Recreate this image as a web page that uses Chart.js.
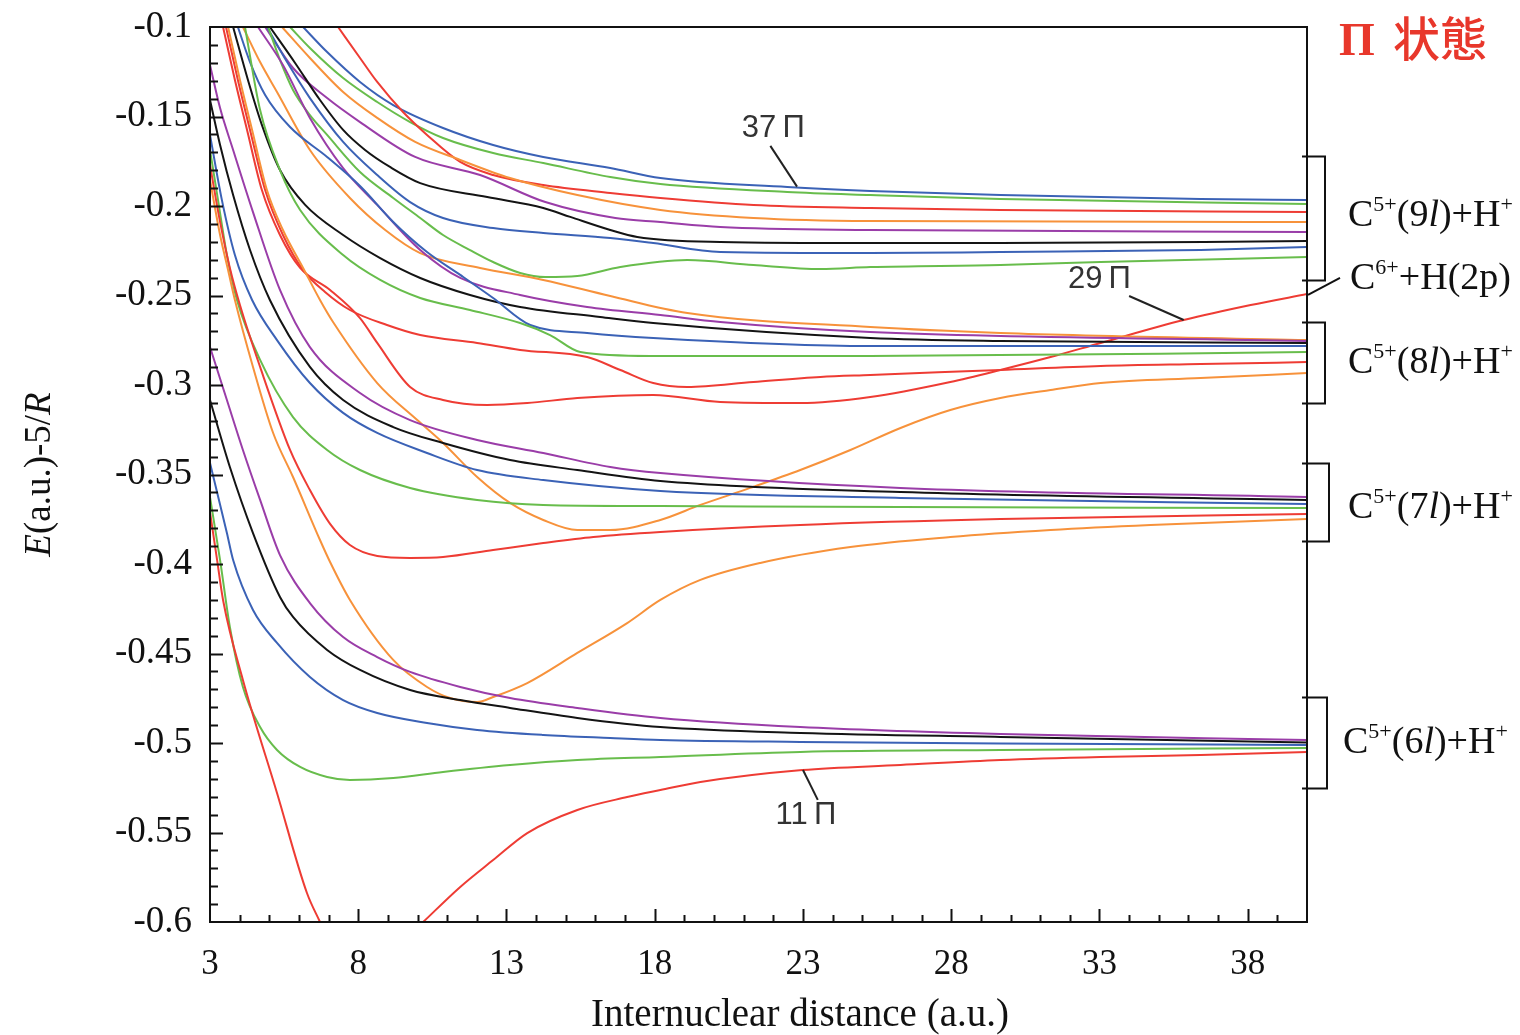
<!DOCTYPE html>
<html>
<head>
<meta charset="utf-8">
<script src="https://cdn.jsdelivr.net/npm/chart.js@4.4.1/dist/chart.umd.min.js"></script>
<style>
  html, body { margin: 0; padding: 0; background: #fff; }
  #wrap { width: 1520px; height: 1035px; position: relative; }
</style>
</head>
<body>
<div id="wrap"><canvas id="c"></canvas></div>
<script>
// Adiabatic Π-state potential curves of CH6+, E(a.u.) - 5/R versus R (a.u.)
// Axis ticks
const xTickValues = [3, 8, 13, 18, 23, 28, 33, 38];
const xTickLabels = ['3', '8', '13', '18', '23', '28', '33', '38'];
const yTickValues = [-0.6, -0.55, -0.5, -0.45, -0.4, -0.35, -0.3, -0.25, -0.2, -0.15, -0.1];
const yTickLabels = ['-0.6', '-0.55', '-0.5', '-0.45', '-0.4', '-0.35', '-0.3', '-0.25', '-0.2', '-0.15', '-0.1'];

// C5+(6l)+H+ manifold
const pi11X = [3.00, 3.24, 3.44, 4.11, 5.26, 6.27, 6.71, 8.5, 10.19, 11.44, 12.55, 13.70, 15.39, 17.07, 18.19, 19.54, 22.98, 26.29, 29.66, 33.04, 36.41, 40];
const pi11Y = [-0.371, -0.3978, -0.4201, -0.4648, -0.5279, -0.5838, -0.6, null, -0.6, -0.5804, -0.5654, -0.5503, -0.5374, -0.5302, -0.5263, -0.5218, -0.5151, -0.5123, -0.5095, -0.5078, -0.5067, -0.505];
const pi12X = [3.00, 3.34, 3.67, 4.11, 4.69, 5.26, 6.04, 6.95, 7.72, 9.18, 10.86, 13.12, 15.39, 18.19, 22.91, 29.66, 40];
const pi12Y = [-0.3626, -0.3978, -0.4352, -0.4687, -0.4911, -0.5039, -0.5134, -0.5190, -0.5207, -0.5196, -0.5162, -0.5123, -0.5095, -0.5078, -0.5050, -0.5039, -0.5028];
const pi13X = [3.00, 3.57, 3.78, 4.45, 5.26, 6.37, 7.49, 8.64, 10.32, 12.01, 14.24, 16.50, 18.19, 22.91, 29.66, 40];
const pi13Y = [-0.3436, -0.3827, -0.3978, -0.4257, -0.4441, -0.4631, -0.4760, -0.4832, -0.4888, -0.4927, -0.4955, -0.4972, -0.4983, -0.4994, -0.5003, -0.5011];
const pi14X = [3.00, 3.67, 4.45, 5.36, 5.80, 6.95, 8.06, 9.75, 11.44, 13.12, 15.39, 18.19, 22.91, 29.66, 40];
const pi14Y = [-0.3084, -0.3458, -0.3827, -0.4184, -0.4296, -0.4480, -0.4592, -0.4704, -0.4760, -0.4804, -0.4860, -0.4911, -0.4944, -0.4966, -0.4997];
const pi15X = [3.00, 3.57, 4.11, 4.69, 5.36, 6.37, 7.49, 8.64, 9.75, 11.44, 13.12, 15.39, 18.19, 22.91, 29.66, 40];
const pi15Y = [-0.2788, -0.3084, -0.3363, -0.3642, -0.3950, -0.4218, -0.4408, -0.4520, -0.4603, -0.4687, -0.4749, -0.4804, -0.4860, -0.4911, -0.4950, -0.4983];
const pi16X = [3.00, 3.34, 3.61, 3.84, 4.45, 5.13, 5.80, 6.71, 7.05, 7.72, 9.18, 10.32, 11.10, 12.01, 12.55, 13.70, 15.39, 17.07, 18.19, 19.54, 21.56, 24.60, 27.97, 31.35, 34.72, 40];
const pi16Y = [-0.1855, -0.2162, -0.2358, -0.2525, -0.2899, -0.3268, -0.3514, -0.3866, -0.3989, -0.4201, -0.4536, -0.4687, -0.4749, -0.4771, -0.4743, -0.4665, -0.4497, -0.4330, -0.4201, -0.4089, -0.3994, -0.3905, -0.3849, -0.3810, -0.3782, -0.3749];

// C5+(7l)+H+ manifold
const pi17X = [3.00, 3.34, 3.67, 4.01, 4.69, 5.70, 6.37, 7.05, 7.72, 8.64, 9.75, 10.86, 12.55, 14.24, 15.93, 18.19, 22.91, 29.66, 40];
const pi17Y = [-0.1771, -0.2089, -0.2346, -0.2553, -0.2899, -0.3363, -0.3587, -0.3776, -0.3894, -0.3955, -0.3966, -0.3961, -0.3922, -0.3883, -0.3849, -0.3821, -0.3782, -0.3749, -0.3721];
const pi18X = [3.00, 3.27, 3.57, 3.91, 4.69, 5.80, 6.95, 8.06, 9.75, 12.01, 14.24, 18.19, 26.29, 40];
const pi18Y = [-0.1687, -0.1966, -0.2274, -0.2525, -0.2860, -0.3179, -0.3363, -0.3475, -0.3575, -0.3642, -0.3670, -0.3676, -0.3682, -0.3687];
const pi19X = [3.00, 3.40, 3.84, 4.42, 5.26, 6.37, 7.49, 8.64, 10.32, 12.01, 14.24, 18.19, 26.29, 40];
const pi19Y = [-0.1603, -0.1966, -0.2274, -0.2525, -0.2749, -0.2989, -0.3156, -0.3268, -0.3380, -0.3475, -0.3531, -0.3592, -0.3631, -0.3665];
const pi20X = [3.00, 3.34, 3.78, 4.35, 5.02, 6.37, 7.49, 9.18, 10.86, 13.12, 15.39, 18.19, 26.29, 40];
const pi20Y = [-0.1408, -0.1659, -0.1939, -0.2246, -0.2525, -0.2899, -0.3084, -0.3235, -0.3324, -0.3419, -0.3475, -0.3536, -0.3598, -0.3642];
const pi21X = [3.00, 3.34, 3.78, 4.45, 5.36, 6.37, 8.06, 9.75, 12.01, 14.24, 16.50, 18.19, 26.29, 40];
const pi21Y = [-0.1212, -0.1453, -0.1687, -0.2034, -0.2469, -0.2788, -0.3045, -0.3196, -0.3307, -0.3380, -0.3458, -0.3492, -0.3575, -0.3626];
const pi22X = [3.61, 4.01, 4.42, 4.92, 5.46, 6.14, 6.71, 7.15, 8.64, 9.99, 10.86, 12.01, 13.12, 14.24, 15.39, 16.50, 18.19, 19.54, 21.22, 22.91, 24.60, 26.29, 27.97, 29.66, 31.35, 33.04, 36.41, 40];
const pi22Y = [-0.1, -0.1296, -0.1575, -0.1911, -0.2134, -0.2346, -0.2525, -0.2648, -0.2989, -0.3196, -0.3324, -0.3514, -0.3659, -0.3754, -0.3810, -0.3810, -0.3754, -0.3670, -0.3575, -0.3475, -0.3363, -0.3240, -0.3140, -0.3073, -0.3028, -0.2989, -0.2961, -0.2933];

// C5+(8l)+H+ manifold and C6+ + H(2p)
const pi23X = [3.54, 3.94, 4.35, 4.86, 5.46, 6.14, 6.88, 7.72, 8.97, 10.09, 12.01, 13.46, 15.72, 16.84, 17.95, 19.10, 21.33, 23.59, 25.27, 29.66, 33.04, 36.41, 40];
const pi23Y = [-0.1, -0.1296, -0.1575, -0.1911, -0.2162, -0.2358, -0.2480, -0.2581, -0.2665, -0.2721, -0.2765, -0.2804, -0.2844, -0.2916, -0.2989, -0.3011, -0.2983, -0.2955, -0.2944, -0.2916, -0.2894, -0.2883, -0.2872];
const pi24X = [4.18, 4.69, 5.36, 6.04, 7.49, 8.74, 10.09, 11.77, 13.46, 14.47, 15.49, 17.85, 25.27, 40];
const pi24Y = [-0.1, -0.1464, -0.1799, -0.2022, -0.2274, -0.2413, -0.2514, -0.2581, -0.2654, -0.2721, -0.2816, -0.2838, -0.2838, -0.2816];
const pi25X = [3.94, 4.35, 4.86, 5.70, 6.95, 8.06, 9.18, 10.32, 11.44, 12.55, 13.80, 15.72, 17.95, 25.27, 40];
const pi25Y = [-0.1, -0.1196, -0.1380, -0.1559, -0.1726, -0.1888, -0.2089, -0.2257, -0.2385, -0.2514, -0.2665, -0.2709, -0.2737, -0.2782, -0.2782];
const pi26X = [3.78, 4.28, 4.75, 5.36, 6.21, 7.49, 8.74, 10.09, 11.77, 13.46, 16.16, 17.95, 25.27, 29.66, 40];
const pi26Y = [-0.1, -0.1296, -0.1547, -0.1799, -0.1994, -0.2162, -0.2291, -0.2402, -0.2497, -0.2564, -0.2620, -0.2654, -0.2737, -0.2754, -0.2765];
const pi27X = [4.62, 5.46, 6.37, 7.49, 8.64, 10.09, 11.44, 13.46, 15.72, 18.19, 20.21, 25.27, 40];
const pi27Y = [-0.1, -0.1212, -0.1508, -0.1788, -0.1994, -0.2246, -0.2402, -0.2497, -0.2564, -0.2609, -0.2648, -0.2704, -0.2754];
const pi28X = [4.11, 4.69, 5.26, 6.37, 7.72, 8.91, 10.09, 12.11, 14.24, 16.50, 19.10, 25.27, 29.66, 40];
const pi28Y = [-0.1, -0.1196, -0.1363, -0.1687, -0.1955, -0.2134, -0.2263, -0.2346, -0.2413, -0.2503, -0.2598, -0.2676, -0.2709, -0.2749];
const pi29X = [3.44, 3.84, 4.25, 4.75, 5.36, 6.04, 7.05, 8.06, 8.64, 9.75, 10.86, 12.35, 13.70, 15.39, 17.95, 20.21, 22.91, 25.27, 27.97, 29.66, 31.35, 33.04, 35.84, 38.10, 40];
const pi29Y = [-0.1, -0.1296, -0.1575, -0.1911, -0.2162, -0.2346, -0.2469, -0.2626, -0.2765, -0.3011, -0.3084, -0.3112, -0.3101, -0.3073, -0.3056, -0.3095, -0.3101, -0.3067, -0.2983, -0.2916, -0.2844, -0.2765, -0.2637, -0.2553, -0.2492];

// C5+(9l)+H+ manifold
const pi30X = [4.96, 5.36, 5.80, 6.37, 6.95, 8.06, 9.18, 10.09, 10.86, 11.77, 12.55, 13.46, 14.31, 15.39, 16.84, 19.10, 21.33, 23.59, 25.27, 29.66, 33.04, 40];
const pi30Y = [-0.1, -0.1184, -0.1352, -0.1492, -0.1603, -0.1810, -0.1955, -0.2067, -0.2162, -0.2246, -0.2313, -0.2374, -0.2397, -0.2391, -0.2341, -0.2302, -0.2330, -0.2352, -0.2341, -0.2330, -0.2313, -0.2285];
const pi31X = [4.92, 5.60, 6.37, 7.49, 8.64, 9.75, 10.86, 12.55, 14.24, 16.50, 17.95, 20.21, 25.27, 29.66, 36.41, 40];
const pi31Y = [-0.1, -0.1196, -0.1397, -0.1642, -0.1827, -0.1978, -0.2067, -0.2123, -0.2151, -0.2179, -0.2207, -0.2257, -0.2263, -0.2257, -0.2246, -0.2229];
const pi32X = [5.02, 5.87, 6.71, 7.49, 8.23, 9.07, 10.09, 12.35, 14.24, 15.15, 16.50, 17.41, 20.21, 25.27, 29.66, 40];
const pi32Y = [-0.1, -0.1201, -0.1408, -0.1575, -0.1687, -0.1782, -0.1872, -0.1950, -0.2011, -0.2061, -0.2134, -0.2173, -0.2201, -0.2207, -0.2207, -0.2196];
const pi33X = [4.86, 5.80, 6.95, 8.06, 9.92, 12.11, 14.31, 16.67, 18.19, 20.21, 25.27, 40];
const pi33Y = [-0.1, -0.1229, -0.1397, -0.1531, -0.1726, -0.1827, -0.1978, -0.2067, -0.2089, -0.2117, -0.2134, -0.2145];
const pi34X = [5.43, 6.37, 7.49, 8.64, 9.92, 11.44, 13.12, 15.39, 18.19, 21.33, 25.27, 40];
const pi34Y = [-0.1, -0.1173, -0.1363, -0.1508, -0.1642, -0.1743, -0.1844, -0.1939, -0.2022, -0.2067, -0.2084, -0.2089];
const pi35X = [7.32, 8.06, 8.64, 9.51, 10.32, 11.44, 12.55, 14.24, 16.50, 18.19, 21.33, 25.27, 29.66, 40];
const pi35Y = [-0.1, -0.1173, -0.1307, -0.1475, -0.1603, -0.1754, -0.1827, -0.1883, -0.1927, -0.1955, -0.1994, -0.2011, -0.2022, -0.2034];
const pi36X = [5.70, 6.37, 7.49, 8.64, 9.75, 10.86, 12.55, 14.24, 16.50, 18.19, 22.47, 25.27, 29.66, 40];
const pi36Y = [-0.1, -0.1117, -0.1285, -0.1419, -0.1531, -0.1620, -0.1704, -0.1760, -0.1838, -0.1877, -0.1922, -0.1939, -0.1961, -0.1989];
const pi37X = [6.14, 6.95, 8.06, 9.18, 10.86, 12.55, 14.24, 16.50, 18.19, 22.47, 25.27, 29.66, 36.41, 40];
const pi37Y = [-0.1, -0.1140, -0.1307, -0.1436, -0.1564, -0.1659, -0.1726, -0.1788, -0.1844, -0.1894, -0.1916, -0.1939, -0.1961, -0.1966];

// Line colours cycle red, green, blue, black, purple, orange with the state index
const PALETTE = ['#ee3c34', '#68bd4c', '#3b62b6', '#141414', '#9a3da8', '#f7923b'];

const states = [
  [11, pi11X, pi11Y], [12, pi12X, pi12Y], [13, pi13X, pi13Y], [14, pi14X, pi14Y], [15, pi15X, pi15Y],
  [16, pi16X, pi16Y], [17, pi17X, pi17Y], [18, pi18X, pi18Y], [19, pi19X, pi19Y], [20, pi20X, pi20Y],
  [21, pi21X, pi21Y], [22, pi22X, pi22Y], [23, pi23X, pi23Y], [24, pi24X, pi24Y], [25, pi25X, pi25Y],
  [26, pi26X, pi26Y], [27, pi27X, pi27Y], [28, pi28X, pi28Y], [29, pi29X, pi29Y], [30, pi30X, pi30Y],
  [31, pi31X, pi31Y], [32, pi32X, pi32Y], [33, pi33X, pi33Y], [34, pi34X, pi34Y], [35, pi35X, pi35Y],
  [36, pi36X, pi36Y], [37, pi37X, pi37Y]
];

// Callout labels: text centre, leader line start and end (data units)
const callouts = [
  { text: '37\u2009Π', tx: 22.0, ty: -0.1564, from: [21.9, -0.1664], to: [22.8, -0.1892] },
  { text: '29\u2009Π', tx: 33.0, ty: -0.2408, from: [34.0, -0.2503], to: [35.84, -0.2637] },
  { text: '11\u2009Π', tx: 23.1, ty: -0.5402, from: [23.5, -0.5318], to: [23.0, -0.5151] }
];

// Asymptotic channels: bracket extent and label position (data units)
const channels = [
  { n: '9', top: -0.1721, bottom: -0.2413, labelY: -0.2039, reach: 18, lx: 41 },
  { n: '8', top: -0.2648, bottom: -0.3101, labelY: -0.2860, reach: 18, lx: 41 },
  { n: '7', top: -0.3436, bottom: -0.3871, labelY: -0.3670, reach: 22, lx: 41 },
  { n: '6', top: -0.4743, bottom: -0.5251, labelY: -0.4983, reach: 20, lx: 36 }
];
const h2pLabelY = -0.2391;

const SERIF = '"Liberation Serif", "Times New Roman", serif';

function drawRich(ctx, segs, x, y, size, align) {
  const parts = segs.map(s => {
    const fs = s.sup ? Math.round(size * 0.58) : size;
    const font = (s.it ? 'italic ' : '') + fs + 'px ' + SERIF;
    ctx.font = font;
    return { s, font, w: ctx.measureText(s.t).width };
  });
  const total = parts.reduce((a, p) => a + p.w, 0);
  let cx = align === 'center' ? x - total / 2 : x;
  ctx.textAlign = 'left';
  ctx.textBaseline = 'alphabetic';
  parts.forEach(p => {
    ctx.font = p.font;
    ctx.fillText(p.s.t, cx, p.s.sup ? y - size * 0.4 : y);
    cx += p.w;
  });
}

const decor = {
  id: 'decor',
  afterDatasetsDraw(chart) {
    const { ctx, chartArea: a, scales: { x, y } } = chart;
    ctx.save();
    ctx.strokeStyle = '#111';
    ctx.fillStyle = '#111';
    ctx.lineWidth = 2;
    ctx.lineCap = 'butt';

    // inward tick marks
    ctx.beginPath();
    for (let v = 4; v < 40; v++) {
      const px = Math.round(x.getPixelForValue(v)) + 0.5;
      const len = (v - 3) % 5 === 0 ? 13 : 7;
      ctx.moveTo(px, a.bottom);
      ctx.lineTo(px, a.bottom - len);
    }
    for (let k = -59; k <= -11; k++) {
      const py = Math.round(y.getPixelForValue(k / 100)) + 0.5;
      const len = k % 5 === 0 ? 13 : 8;
      ctx.moveTo(a.left, py);
      ctx.lineTo(a.left + len, py);
    }
    ctx.stroke();

    // plot frame
    ctx.strokeRect(a.left, a.top, a.right - a.left, a.bottom - a.top);

    // callouts
    ctx.strokeStyle = '#222';
    ctx.lineWidth = 2;
    callouts.forEach(c => {
      ctx.beginPath();
      ctx.moveTo(x.getPixelForValue(c.from[0]), y.getPixelForValue(c.from[1]));
      ctx.lineTo(x.getPixelForValue(c.to[0]), y.getPixelForValue(c.to[1]));
      ctx.stroke();
      ctx.fillStyle = '#333';
      ctx.font = '31px "Liberation Sans", Arial, sans-serif';
      ctx.textAlign = 'center';
      ctx.textBaseline = 'middle';
      ctx.fillText(c.text, x.getPixelForValue(c.tx), y.getPixelForValue(c.ty));
    });

    // channel brackets and labels
    ctx.strokeStyle = '#111';
    ctx.fillStyle = '#111';
    ctx.lineWidth = 2;
    channels.forEach(ch => {
      const t = Math.round(y.getPixelForValue(ch.top)) + 0.5;
      const b = Math.round(y.getPixelForValue(ch.bottom)) + 0.5;
      const bx = a.right + ch.reach;
      ctx.beginPath();
      ctx.moveTo(a.right - 5, t);
      ctx.lineTo(bx, t);
      ctx.lineTo(bx, b);
      ctx.lineTo(a.right - 5, b);
      ctx.stroke();
      const ly = y.getPixelForValue(ch.labelY) + 13;
      drawRich(ctx, [
        { t: 'C' }, { t: '5+', sup: true }, { t: '(' + ch.n }, { t: 'l', it: true },
        { t: ')+H' }, { t: '+', sup: true }
      ], a.right + ch.lx, ly, 38, 'left');
    });

    // C6+ + H(2p) channel
    const hy = y.getPixelForValue(h2pLabelY);
    ctx.beginPath();
    ctx.moveTo(a.right + 1, y.getPixelForValue(-0.2497));
    ctx.lineTo(a.right + 33, hy + 2);
    ctx.stroke();
    drawRich(ctx, [{ t: 'C' }, { t: '6+', sup: true }, { t: '+H(2p)' }], a.right + 43, hy + 13, 38, 'left');

    // axis titles
    ctx.save();
    ctx.translate(38, (a.top + a.bottom) / 2);
    ctx.rotate(-Math.PI / 2);
    drawRich(ctx, [{ t: 'E', it: true }, { t: '(a.u.)-5/' }, { t: 'R', it: true }], 0, 12, 37, 'center');
    ctx.restore();

    ctx.fillStyle = '#111';
    ctx.font = '39px ' + SERIF;
    ctx.textAlign = 'center';
    ctx.textBaseline = 'alphabetic';
    ctx.fillText('Internuclear distance (a.u.)', 800, 1026);

    // panel title
    ctx.fillStyle = '#e8372b';
    ctx.textAlign = 'left';
    ctx.font = 'bold 46px ' + SERIF;
    ctx.fillText('Π', 1339, 55);
    ctx.font = '500 47px "Noto Sans CJK JP", sans-serif';
    ctx.fillText('状態', 1393, 56);

    ctx.restore();
  }
};

const datasets = states.map(([n, xs, ys]) => ({
  label: n + 'Π',
  data: xs.map((v, i) => ({ x: v, y: ys[i] })),
  borderColor: PALETTE[(n - 11) % 6],
  borderWidth: 2,
  pointRadius: 0,
  fill: false,
  spanGaps: false,
  cubicInterpolationMode: 'monotone'
}));

new Chart(document.getElementById('c'), {
  type: 'line',
  data: { datasets },
  options: {
    responsive: true,
    maintainAspectRatio: false,
    animation: false,
    events: [],
    layout: { padding: { left: 0, top: 27, right: 213, bottom: 0 } },
    plugins: { legend: { display: false }, tooltip: { enabled: false } },
    scales: {
      x: {
        type: 'linear', min: 3, max: 40,
        grid: { display: false, drawTicks: false },
        border: { display: false },
        afterBuildTicks: s => { s.ticks = xTickValues.map(v => ({ value: v })); },
        afterFit: s => { s.height = 113; s.paddingLeft = 0; s.paddingRight = 0; },
        ticks: {
          autoSkip: false, maxRotation: 0, padding: 22, color: '#111',
          font: { family: SERIF, size: 35 },
          callback: v => xTickLabels[xTickValues.indexOf(v)]
        }
      },
      y: {
        type: 'linear', min: -0.6, max: -0.1,
        grid: { display: false, drawTicks: false },
        border: { display: false },
        afterBuildTicks: s => { s.ticks = yTickValues.map(v => ({ value: v })); },
        afterFit: s => { s.width = 210; s.paddingTop = 0; s.paddingBottom = 0; },
        ticks: {
          autoSkip: false, padding: 18, color: '#111',
          font: { family: SERIF, size: 37 },
          callback: v => {
            const i = yTickValues.findIndex(t => Math.abs(t - v) < 1e-9);
            return i >= 0 ? yTickLabels[i] : '';
          }
        }
      }
    }
  },
  plugins: [decor]
});
</script>
</body>
</html>
